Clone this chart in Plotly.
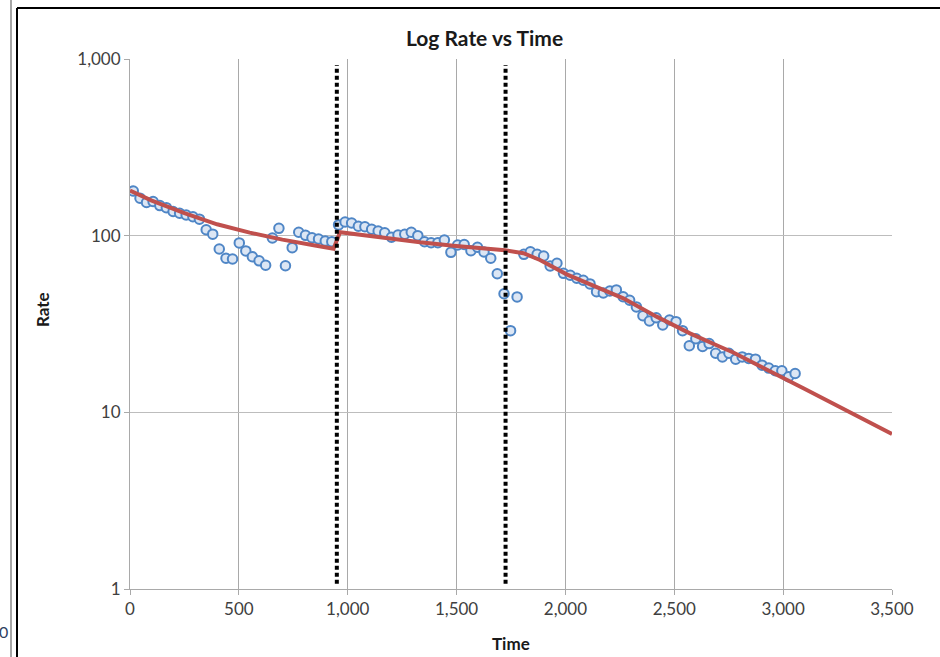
import plotly.graph_objects as go

# ---- data ----
time_days = [15, 46, 76, 106, 137, 167, 198, 228, 258, 289, 319, 350, 380, 410, 441, 471, 502, 532,
             562, 593, 623, 654, 684, 714, 745, 775, 806, 836, 866, 897, 927, 958, 988, 1018, 1049,
             1079, 1110, 1140, 1170, 1201, 1231, 1262, 1292, 1322, 1353, 1383, 1414, 1444, 1474,
             1505, 1535, 1566, 1596, 1626, 1657, 1687, 1718, 1748, 1778, 1809, 1839, 1870, 1900,
             1930, 1961, 1991, 2022, 2052, 2082, 2113, 2143, 2174, 2204, 2234, 2265, 2295, 2326,
             2356, 2386, 2417, 2447, 2478, 2508, 2538, 2569, 2599, 2630, 2660, 2690, 2721, 2751,
             2782, 2812, 2842, 2873, 2903, 2934, 2964, 2994, 3025, 3055]
rate_obs = [179, 163, 154, 156, 148, 144, 137, 134, 131, 128, 124, 108, 102, 84, 74.5, 73.8, 91, 82,
            76, 72, 68, 97, 110, 67.6, 85.5, 104.5, 100.4, 97.3, 95.7, 93.3, 92.5, 115, 119.5, 118,
            113, 112.4, 108.7, 106.3, 103.9, 97.9, 100.9, 101.8, 104.5, 100, 92.4, 91.2, 91.2, 94.5,
            80.5, 88.5, 89.1, 82.1, 86.0, 80.8, 74.5, 60.9, 46.9, 29.0, 45.0, 78.4, 81.1, 78.4,
            76.7, 67.3, 69.8, 61.2, 59.7, 57.4, 55.9, 53.3, 48.2, 47.4, 48.6, 49.3, 45.1, 43.1,
            39.5, 35.2, 32.9, 34.3, 31.2, 33.3, 32.6, 29.0, 23.8, 26.1, 23.6, 24.5, 21.6, 20.6,
            21.6, 20.0, 20.6, 20.2, 20.0, 18.5, 17.8, 17.2, 17.2, 15.9, 16.6]

fit_time = [0, 100, 250, 400, 550, 700, 850, 935, 965, 1179, 1332, 1485, 1722,
            1807, 1883, 2006, 2113, 2266, 2419, 2572, 2710, 2771, 3093, 3500]
fit_rate = [180, 158, 134, 116, 104, 95, 88, 84.4, 104.5, 96.6, 91.7, 87.7, 82.8,
            79.5, 72.8, 60.4, 53.0, 44.2, 34.8, 28.0, 23.5, 21.8, 13.7, 7.54]

break_times = [950, 1725]
break_rate_span = [1.07, 925]

x_ticks = [0, 500, 1000, 1500, 2000, 2500, 3000, 3500]
y_ticks = [1, 10, 100, 1000]

# ---- figure ----
W, H = 940, 657
L, R, T, B = 130, 48, 59, 68
PW, PH = W - L - R, H - T - B


def px_x(p):
    return (p - L) / PW


def px_y(p):
    return (H - B - p) / PH


fig = go.Figure()

fig.add_trace(go.Scatter(
    x=time_days, y=rate_obs, mode="markers",
    marker=dict(symbol="circle", size=9.5, color="#dce6f4",
                line=dict(color="#4f86c6", width=2)),
    hoverinfo="x+y"))

fig.add_trace(go.Scatter(
    x=fit_time, y=fit_rate, mode="lines",
    line=dict(color="#c0504d", width=4)))

for bt in break_times:
    fig.add_trace(go.Scatter(
        x=[bt, bt], y=break_rate_span, mode="lines",
        line=dict(color="black", width=4, dash="4px,3px")))

font_family = "Lato, 'Open Sans', Arial, sans-serif"

fig.update_layout(
    width=W, height=H,
    margin=dict(l=L, r=R, t=T, b=B),
    paper_bgcolor="white", plot_bgcolor="white",
    showlegend=False,
    font=dict(family=font_family, size=17, color="#404040"),
    xaxis=dict(range=[0, 3500], tickvals=x_ticks, tickformat=",",
               showgrid=True, gridcolor="#a9a9a9", gridwidth=1,
               showline=True, linecolor="#a9a9a9", linewidth=1,
               ticks="outside", ticklen=5, tickcolor="#a9a9a9",
               zeroline=False, tickfont=dict(size=17, color="#404040")),
    yaxis=dict(type="log", range=[0, 3], tickvals=y_ticks, tickformat=",",
               showgrid=True, gridcolor="#bdbdbd", gridwidth=1,
               showline=True, linecolor="#a9a9a9", linewidth=1,
               ticks="outside", ticklen=5, tickcolor="#a9a9a9",
               zeroline=False, tickfont=dict(size=17, color="#404040")),
)

annotations = [
    dict(text="<b>Log Rate vs Time</b>", x=px_x(484.5), y=px_y(38),
         xref="paper", yref="paper", showarrow=False, xanchor="center", yanchor="middle",
         font=dict(family=font_family, size=21, color="#1a1a1a")),
    dict(text="<b>Rate</b>", x=px_x(42), y=px_y(310), textangle=-90,
         xref="paper", yref="paper", showarrow=False, xanchor="center", yanchor="middle",
         font=dict(family=font_family, size=17, color="#1a1a1a")),
    dict(text="<b>Time</b>", x=px_x(511), y=px_y(643),
         xref="paper", yref="paper", showarrow=False, xanchor="center", yanchor="middle",
         font=dict(family=font_family, size=17, color="#1a1a1a")),
    dict(text="0", x=px_x(10), y=px_y(631),
         xref="paper", yref="paper", showarrow=False, xanchor="right", yanchor="middle",
         font=dict(family=font_family, size=16, color="#2f3f5f")),
]
fig.update_layout(annotations=annotations)

shapes = [
    dict(type="line", xref="paper", yref="paper",
         x0=px_x(11), x1=px_x(11), y0=px_y(0), y1=px_y(H),
         line=dict(color="#a6a6a6", width=2)),
    dict(type="line", xref="paper", yref="paper",
         x0=px_x(17), x1=px_x(17), y0=px_y(8), y1=px_y(H),
         line=dict(color="black", width=2)),
    dict(type="line", xref="paper", yref="paper",
         x0=px_x(17), x1=px_x(W), y0=px_y(8), y1=px_y(8),
         line=dict(color="black", width=2)),
]
fig.update_layout(shapes=shapes)

fig.write_html("out.html", config={"displayModeBar": False},
               post_script="document.body.style.margin='0px';document.body.style.padding='0px';")
